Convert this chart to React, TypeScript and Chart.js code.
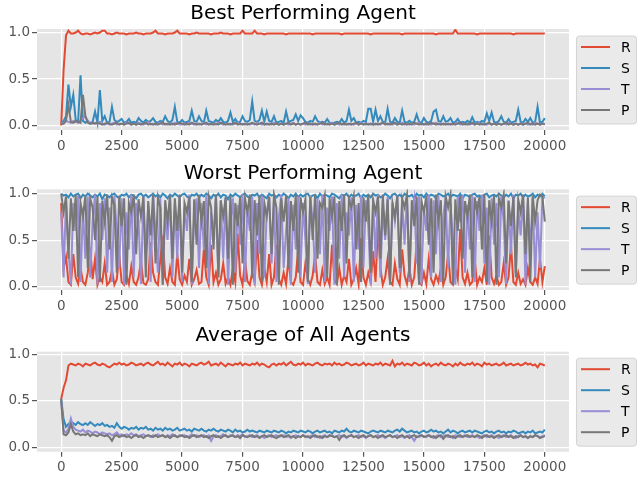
import { useEffect, useRef } from "react"
import { Chart, registerables } from "chart.js"

Chart.register(...registerables)

// episode index of every sample
const episodes = [
  0, 100, 200, 300, 400, 500, 600, 700, 800, 900,
  1000, 1100, 1200, 1300, 1400, 1500, 1600, 1700, 1800, 1900,
  2000, 2100, 2200, 2300, 2400, 2500, 2600, 2700, 2800, 2900,
  3000, 3100, 3200, 3300, 3400, 3500, 3600, 3700, 3800, 3900,
  4000, 4100, 4200, 4300, 4400, 4500, 4600, 4700, 4800, 4900,
  5000, 5100, 5200, 5300, 5400, 5500, 5600, 5700, 5800, 5900,
  6000, 6100, 6200, 6300, 6400, 6500, 6600, 6700, 6800, 6900,
  7000, 7100, 7200, 7300, 7400, 7500, 7600, 7700, 7800, 7900,
  8000, 8100, 8200, 8300, 8400, 8500, 8600, 8700, 8800, 8900,
  9000, 9100, 9200, 9300, 9400, 9500, 9600, 9700, 9800, 9900,
  10000, 10100, 10200, 10300, 10400, 10500, 10600, 10700, 10800, 10900,
  11000, 11100, 11200, 11300, 11400, 11500, 11600, 11700, 11800, 11900,
  12000, 12100, 12200, 12300, 12400, 12500, 12600, 12700, 12800, 12900,
  13000, 13100, 13200, 13300, 13400, 13500, 13600, 13700, 13800, 13900,
  14000, 14100, 14200, 14300, 14400, 14500, 14600, 14700, 14800, 14900,
  15000, 15100, 15200, 15300, 15400, 15500, 15600, 15700, 15800, 15900,
  16000, 16100, 16200, 16300, 16400, 16500, 16600, 16700, 16800, 16900,
  17000, 17100, 17200, 17300, 17400, 17500, 17600, 17700, 17800, 17900,
  18000, 18100, 18200, 18300, 18400, 18500, 18600, 18700, 18800, 18900,
  19000, 19100, 19200, 19300, 19400, 19500, 19600, 19700, 19800, 19900,
  20000,
]

const xTicks = [0, 2500, 5000, 7500, 10000, 12500, 15000, 17500, 20000]
const yTicks = [0, 0.5, 1]
const seriesNames = ["R", "S", "T", "P"]
const seriesColors = ["#E24A33", "#348ABD", "#988ED5", "#777777"]

// Best performing agent
const bestR = [
  0.0, 0.6, 0.97, 1.02, 0.99, 0.99, 1.0, 1.02, 0.99, 0.98,
  0.99, 0.99, 0.98, 0.99, 1.0, 0.99, 1.0, 1.02, 1.02, 0.99,
  0.99, 0.98, 0.99, 1.0, 0.99, 0.99, 0.99, 0.98, 0.99, 0.99,
  0.99, 1.0, 0.99, 0.99, 0.98, 0.99, 0.99, 0.99, 1.0, 1.02,
  0.99, 0.99, 0.99, 0.98, 0.99, 0.99, 0.99, 1.0, 1.02, 0.99,
  0.99, 0.99, 0.99, 0.98, 0.99, 0.99, 1.0, 0.99, 0.99, 0.99,
  0.99, 0.99, 0.98, 0.99, 0.99, 0.99, 1.0, 0.99, 0.99, 0.99,
  0.98, 0.99, 0.99, 0.99, 0.99, 1.02, 0.99, 0.99, 0.99, 0.99,
  1.02, 0.99, 0.99, 0.99, 0.98, 0.99, 0.99, 0.99, 0.99, 0.99,
  0.99, 0.99, 0.99, 0.98, 0.99, 0.99, 0.99, 0.99, 0.99, 0.99,
  0.99, 0.99, 0.99, 0.99, 0.98, 0.99, 0.99, 0.99, 0.99, 0.99,
  0.99, 0.99, 0.99, 0.99, 0.99, 0.99, 0.98, 0.99, 0.99, 0.99,
  0.99, 0.99, 0.99, 0.99, 0.99, 0.99, 0.99, 0.99, 0.98, 0.99,
  0.99, 0.99, 0.99, 0.99, 0.99, 0.99, 0.99, 0.99, 0.99, 0.99,
  0.99, 0.98, 0.99, 0.99, 0.99, 0.99, 0.99, 0.99, 0.99, 0.99,
  0.99, 0.99, 0.99, 0.99, 0.99, 0.98, 0.99, 0.99, 0.99, 0.99,
  0.99, 0.99, 0.99, 1.03, 0.99, 0.99, 0.99, 0.99, 0.99, 0.99,
  0.99, 0.99, 0.98, 0.99, 0.99, 0.99, 0.99, 0.99, 0.99, 0.99,
  0.99, 0.99, 0.99, 0.99, 0.99, 0.99, 0.99, 0.98, 0.99, 0.99,
  0.99, 0.99, 0.99, 0.99, 0.99, 0.99, 0.99, 0.99, 0.99, 0.99,
  0.99,
]
const bestS = [
  0.02, 0.05, 0.1, 0.44, 0.2, 0.33, 0.06, 0.04, 0.54, 0.05,
  0.03, 0.05, 0.02, 0.04, 0.15, 0.03, 0.38, 0.05, 0.1, 0.03,
  0.04, 0.2, 0.06, 0.04, 0.05, 0.07, 0.03, 0.04, 0.07, 0.03,
  0.04, 0.03, 0.08, 0.05, 0.03, 0.06, 0.04, 0.05, 0.08, 0.04,
  0.03, 0.05, 0.04, 0.1, 0.05, 0.03, 0.06, 0.2, 0.04, 0.03,
  0.06, 0.03, 0.04, 0.05, 0.16, 0.05, 0.04, 0.1, 0.05, 0.03,
  0.16, 0.05, 0.04, 0.03, 0.06, 0.04, 0.08, 0.04, 0.03, 0.05,
  0.14, 0.04, 0.07, 0.03, 0.04, 0.1, 0.05, 0.04, 0.06, 0.26,
  0.05, 0.04, 0.06, 0.16, 0.04, 0.15, 0.05, 0.04, 0.1, 0.03,
  0.04, 0.05, 0.03, 0.15, 0.04, 0.05, 0.06, 0.12, 0.05, 0.11,
  0.08, 0.04, 0.03, 0.05, 0.04, 0.1, 0.05, 0.03, 0.04, 0.03,
  0.07, 0.03, 0.02, 0.03, 0.04, 0.03, 0.07, 0.03, 0.05, 0.17,
  0.05, 0.08, 0.03, 0.04, 0.03, 0.05, 0.04, 0.18, 0.18, 0.04,
  0.17, 0.05, 0.1, 0.04, 0.03, 0.18, 0.04, 0.03, 0.08, 0.04,
  0.03, 0.16, 0.04, 0.03, 0.05, 0.03, 0.04, 0.12, 0.04, 0.03,
  0.08, 0.04, 0.03, 0.05, 0.15, 0.17, 0.05, 0.04, 0.1, 0.04,
  0.05, 0.08, 0.03, 0.04, 0.07, 0.03, 0.04, 0.03, 0.05, 0.03,
  0.09, 0.03, 0.04, 0.03, 0.05, 0.04, 0.13, 0.05, 0.14, 0.04,
  0.03, 0.05, 0.1, 0.04, 0.03, 0.07, 0.03, 0.04, 0.05, 0.17,
  0.04, 0.03, 0.07, 0.04, 0.08, 0.03, 0.04, 0.2, 0.03, 0.04,
  0.08,
]
const bestT = [
  0.02, 0.03, 0.05, 0.04, 0.03, 0.05, 0.04, 0.03, 0.06, 0.08,
  0.1, 0.05, 0.03, 0.02, 0.03, 0.02, 0.04, 0.02, 0.01, 0.02,
  0.01, 0.02, 0.03, 0.01, 0.02, 0.02, 0.01, 0.03, 0.02, 0.01,
  0.02, 0.01, 0.03, 0.02, 0.01, 0.02, 0.04, 0.01, 0.02, 0.01,
  0.02, 0.03, 0.01, 0.02, 0.01, 0.02, 0.01, 0.03, 0.02, 0.01,
  0.01, 0.02, 0.01, 0.03, 0.02, 0.01, 0.02, 0.01, 0.02, 0.03,
  0.01, 0.02, 0.01, 0.02, 0.01, 0.03, 0.02, 0.01, 0.02, 0.01,
  0.02, 0.01, 0.02, 0.03, 0.01, 0.02, 0.01, 0.02, 0.01, 0.02,
  0.01, 0.03, 0.02, 0.01, 0.02, 0.01, 0.02, 0.01, 0.03, 0.02,
  0.01, 0.02, 0.01, 0.02, 0.01, 0.02, 0.03, 0.01, 0.02, 0.01,
  0.02, 0.01, 0.02, 0.01, 0.02, 0.01, 0.02, 0.03, 0.01, 0.02,
  0.01, 0.02, 0.03, 0.01, 0.02, 0.01, 0.02, 0.01, 0.02, 0.01,
  0.02, 0.01, 0.02, 0.01, 0.03, 0.02, 0.01, 0.02, 0.01, 0.02,
  0.01, 0.02, 0.01, 0.03, 0.02, 0.01, 0.02, 0.01, 0.02, 0.01,
  0.02, 0.03, 0.01, 0.02, 0.01, 0.02, 0.01, 0.02, 0.03, 0.01,
  0.02, 0.01, 0.02, 0.01, 0.02, 0.03, 0.01, 0.02, 0.01, 0.02,
  0.01, 0.02, 0.01, 0.02, 0.03, 0.01, 0.02, 0.01, 0.02, 0.01,
  0.02, 0.01, 0.03, 0.02, 0.01, 0.02, 0.01, 0.02, 0.01, 0.02,
  0.01, 0.02, 0.01, 0.02, 0.01, 0.03, 0.02, 0.01, 0.02, 0.01,
  0.02, 0.01, 0.02, 0.01, 0.02, 0.01, 0.03, 0.02, 0.01, 0.02,
  0.01,
]
const bestP = [
  0.02, 0.02, 0.05, 0.22, 0.04, 0.03, 0.05, 0.04, 0.03, 0.33,
  0.1, 0.03, 0.02, 0.03, 0.02, 0.03, 0.02, 0.01, 0.02, 0.03,
  0.02, 0.01, 0.02, 0.03, 0.01, 0.02, 0.01, 0.02, 0.03, 0.01,
  0.02, 0.01, 0.02, 0.01, 0.02, 0.03, 0.01, 0.02, 0.01, 0.02,
  0.01, 0.02, 0.03, 0.01, 0.02, 0.01, 0.02, 0.01, 0.02, 0.03,
  0.02, 0.01, 0.02, 0.01, 0.03, 0.02, 0.01, 0.02, 0.01, 0.02,
  0.03, 0.01, 0.02, 0.01, 0.02, 0.01, 0.03, 0.02, 0.01, 0.02,
  0.01, 0.02, 0.03, 0.01, 0.02, 0.01, 0.02, 0.01, 0.02, 0.03,
  0.02, 0.01, 0.02, 0.03, 0.01, 0.02, 0.01, 0.02, 0.01, 0.02,
  0.01, 0.02, 0.01, 0.02, 0.03, 0.01, 0.02, 0.01, 0.02, 0.01,
  0.02, 0.03, 0.01, 0.02, 0.01, 0.02, 0.01, 0.02, 0.03, 0.01,
  0.02, 0.01, 0.02, 0.01, 0.02, 0.03, 0.01, 0.02, 0.01, 0.02,
  0.01, 0.02, 0.03, 0.01, 0.02, 0.01, 0.02, 0.01, 0.02, 0.01,
  0.02, 0.01, 0.02, 0.03, 0.01, 0.02, 0.01, 0.02, 0.03, 0.01,
  0.02, 0.01, 0.02, 0.01, 0.02, 0.01, 0.03, 0.02, 0.01, 0.02,
  0.01, 0.02, 0.01, 0.03, 0.02, 0.01, 0.02, 0.01, 0.02, 0.01,
  0.02, 0.01, 0.02, 0.01, 0.02, 0.03, 0.01, 0.02, 0.01, 0.02,
  0.03, 0.01, 0.02, 0.01, 0.02, 0.01, 0.02, 0.03, 0.01, 0.02,
  0.01, 0.02, 0.01, 0.02, 0.03, 0.01, 0.02, 0.01, 0.02, 0.01,
  0.02, 0.01, 0.02, 0.03, 0.01, 0.02, 0.01, 0.02, 0.01, 0.02,
  0.02,
]

// Worst performing agent
const worstR = [
  0.9, 0.2, 0.32, 0.05, 0.02, 0.35, 0.1, 0.03, 0.2, 0.05,
  0.02, 0.15, 0.42, 0.08, 0.3, 0.02, 0.1, 0.05, 0.25, 0.02,
  0.05, 0.18, 0.02, 0.08, 0.35, 0.05, 0.02, 0.12, 0.03, 0.22,
  0.05, 0.02, 0.1, 0.28, 0.04, 0.02, 0.08, 0.48, 0.15, 0.05,
  0.02, 0.3, 0.55, 0.1, 0.03, 0.2, 0.05, 0.02, 0.35, 0.08,
  0.02, 0.12, 0.05, 0.3, 0.02, 0.08, 0.18, 0.03, 0.05, 0.4,
  0.1, 0.02, 0.45, 0.05, 0.15, 0.02, 0.08, 0.25, 0.03, 0.1,
  0.02, 0.2, 0.05, 0.57, 0.12, 0.02, 0.3, 0.06, 0.02, 0.15,
  0.05, 0.5, 0.1, 0.02, 0.2, 0.05, 0.35, 0.02, 0.1, 0.45,
  0.08, 0.02, 0.15, 0.03, 0.3, 0.05, 0.02, 0.1, 0.4, 0.05,
  0.02, 0.25, 0.08, 0.02, 0.12, 0.35, 0.05, 0.02, 0.18, 0.03,
  0.1, 0.02, 0.45, 0.08, 0.03, 0.2, 0.02, 0.12, 0.05, 0.3,
  0.02, 0.08, 0.2, 0.03, 0.52, 0.1, 0.02, 0.15, 0.05, 0.38,
  0.05, 0.65, 0.2, 0.02, 0.1, 0.3, 0.05, 0.02, 0.25, 0.08,
  0.02, 0.4, 0.12, 0.03, 0.2, 0.02, 0.1, 0.48, 0.05, 0.02,
  0.15, 0.03, 0.3, 0.08, 0.02, 0.12, 0.05, 0.2, 0.02, 0.1,
  0.35, 0.05, 0.02, 0.2, 0.08, 0.62, 0.1, 0.03, 0.15, 0.02,
  0.05, 0.3, 0.02, 0.1, 0.05, 0.2, 0.02, 0.55, 0.1, 0.03,
  0.12, 0.02, 0.05, 0.25, 0.02, 0.1, 0.45, 0.05, 0.02, 0.15,
  0.03, 0.08, 0.02, 0.2, 0.05, 0.02, 0.1, 0.03, 0.3, 0.05,
  0.22,
]
const worstS = [
  1.0, 0.98, 0.99, 0.96, 1.0, 0.97, 0.99, 1.0, 0.95, 0.99,
  0.97, 1.0, 0.98, 0.96, 0.99, 0.97, 1.0, 0.94, 0.99, 0.98,
  0.96, 0.99, 1.0, 0.97, 0.95, 0.99, 0.98, 1.0, 0.96, 0.99,
  0.98, 0.95, 0.99, 1.0, 0.97, 0.99, 0.96, 0.98, 1.0, 0.97,
  0.99, 0.96, 1.0, 0.98, 0.95, 0.99, 0.97, 1.0, 0.98, 0.96,
  0.99, 1.0, 0.97, 0.95, 0.99, 0.98, 1.0, 0.96, 0.99, 0.97,
  1.0, 0.98, 0.95, 0.99, 0.97, 1.0, 0.96, 0.99, 0.98, 0.94,
  0.99, 0.97, 1.0, 0.98, 0.96, 0.99, 1.0, 0.97, 0.95, 0.99,
  0.98, 1.0, 0.96, 0.99, 0.97, 0.95, 1.0, 0.98, 0.99, 0.96,
  0.99, 0.97, 1.0, 0.98, 0.95, 0.99, 0.97, 1.0, 0.96, 0.99,
  0.97, 0.99, 1.0, 0.96, 0.98, 0.99, 0.95, 1.0, 0.97, 0.99,
  0.98, 0.96, 1.0, 0.99, 0.97, 0.95, 0.99, 0.98, 1.0, 0.96,
  0.99, 0.97, 0.98, 1.0, 0.95, 0.99, 0.97, 0.99, 0.96, 1.0,
  0.98, 0.99, 0.96, 0.97, 1.0, 0.98, 0.95, 0.99, 1.0, 0.97,
  0.99, 0.96, 1.0, 0.98, 0.97, 0.99, 0.95, 1.0, 0.98, 0.99,
  0.96, 1.0, 0.97, 0.99, 0.98, 0.95, 1.0, 0.99, 0.97, 0.98,
  1.0, 0.96, 0.99, 0.98, 0.97, 1.0, 0.95, 0.99, 0.98, 0.96,
  0.99, 1.0, 0.97, 0.98, 0.95, 0.99, 1.0, 0.96, 0.98, 0.99,
  0.97, 1.0, 0.98, 0.96, 0.99, 0.97, 1.0, 0.95, 0.99, 0.98,
  1.0, 0.96, 0.99, 0.97, 0.98, 1.0, 0.96, 0.99, 0.97, 1.0,
  0.97,
]
const worstT = [
  0.8, 0.1, 0.95, 0.4, 0.02, 0.9, 0.6, 0.98, 0.05, 0.85,
  0.3, 0.97, 0.1, 0.7, 0.99, 0.02, 0.9, 0.5, 0.95, 0.15,
  0.85, 0.05, 0.98, 0.6, 0.2, 0.95, 0.02, 0.8, 0.4, 0.99,
  0.1, 0.9, 0.7, 0.03, 0.97, 0.35, 0.88, 0.05, 0.99, 0.6,
  0.15, 0.95, 0.02, 0.8, 0.5, 0.98, 0.1, 0.9, 0.3, 0.97,
  0.05, 0.85, 0.6, 0.99, 0.02, 0.75, 0.95, 0.2, 0.9, 0.4,
  0.98, 0.03, 0.8, 0.55, 0.99, 0.1, 0.92, 0.3, 0.96, 0.02,
  0.7, 0.95, 0.15, 0.88, 0.45, 0.99, 0.05, 0.85, 0.6, 0.97,
  0.02, 0.9, 0.35, 0.98, 0.1, 0.8, 0.96, 0.25, 0.93, 0.05,
  0.75, 0.99, 0.2, 0.6, 0.95, 0.02, 0.88, 0.4, 0.97, 0.1,
  0.9, 0.5, 0.03, 0.98, 0.7, 0.15, 0.95, 0.35, 0.99, 0.05,
  0.85, 0.6, 0.97, 0.02, 0.9, 0.3, 0.99, 0.1, 0.8, 0.55,
  0.96, 0.05, 0.88, 0.4, 0.98, 0.2, 0.93, 0.65, 0.02, 0.95,
  0.3, 0.99, 0.1, 0.85, 0.5, 0.97, 0.03, 0.9, 0.7, 0.98,
  0.15, 0.92, 0.45, 0.99, 0.05, 0.8, 0.95, 0.25, 0.97, 0.02,
  0.85, 0.6, 0.99, 0.1, 0.93, 0.35, 0.98, 0.05, 0.75, 0.96,
  0.2, 0.9, 0.5, 0.02, 0.97, 0.7, 0.99, 0.15, 0.88, 0.4,
  0.98, 0.05, 0.92, 0.6, 0.99, 0.25, 0.85, 0.02, 0.95, 0.45,
  0.9, 0.1, 0.97, 0.7, 0.03, 0.93, 0.35, 0.99, 0.15, 0.85,
  0.55, 0.98, 0.02, 0.9, 0.4, 0.96, 0.1, 0.8, 0.2, 0.97,
  0.95,
]
const worstP = [
  1.0, 0.8, 0.97, 0.3, 0.95, 0.6, 0.99, 0.1, 0.9, 0.75,
  0.98, 0.2, 0.95, 0.85, 0.5, 0.97, 0.05, 0.92, 0.7, 0.99,
  0.4, 0.96, 0.88, 0.15, 0.98, 0.65, 0.95, 0.02, 0.9, 0.8,
  0.99, 0.35, 0.94, 0.75, 0.97, 0.1, 0.92, 0.55, 0.99, 0.25,
  0.96, 0.85, 0.02, 0.93, 0.7, 0.98, 0.3, 0.95, 0.6, 0.99,
  0.15, 0.9, 0.8, 0.97, 0.05, 0.94, 0.45, 0.99, 0.7, 0.92,
  0.2, 0.97, 0.85, 0.4, 0.99, 0.1, 0.93, 0.75, 0.96, 0.3,
  0.98, 0.02, 0.9, 0.65, 0.97, 0.25, 0.95, 0.8, 0.99, 0.1,
  0.93, 0.55, 0.98, 0.05, 0.9, 0.75, 0.97, 0.35, 0.99, 0.85,
  0.02, 0.95, 0.7, 0.98, 0.2, 0.92, 0.6, 0.99, 0.15, 0.96,
  0.8, 0.94, 0.05, 0.97, 0.5, 0.99, 0.3, 0.9, 0.85, 0.98,
  0.1, 0.95, 0.75, 0.97, 0.02, 0.92, 0.6, 0.99, 0.25, 0.94,
  0.85, 0.98, 0.4, 0.9, 0.05, 0.96, 0.7, 0.99, 0.15, 0.93,
  0.8, 0.97, 0.3, 0.99, 0.55, 0.94, 0.02, 0.9, 0.75, 0.98,
  0.2, 0.95, 0.85, 0.99, 0.1, 0.93, 0.65, 0.97, 0.02, 0.92,
  0.8, 0.98, 0.45, 0.95, 0.15, 0.99, 0.7, 0.93, 0.05, 0.97,
  0.85, 0.99, 0.02, 0.94, 0.6, 0.98, 0.3, 0.92, 0.75, 0.99,
  0.1, 0.96, 0.8, 0.97, 0.4, 0.99, 0.05, 0.93, 0.7, 0.98,
  0.02, 0.95, 0.85, 0.99, 0.25, 0.92, 0.65, 0.97, 0.1, 0.94,
  0.8, 0.99, 0.35, 0.96, 0.05, 0.98, 0.7, 0.93, 0.99, 0.97,
  0.7,
]

// Average of all agents
const avgR = [
  0.52, 0.64, 0.72, 0.88, 0.9, 0.89, 0.88, 0.9, 0.89, 0.87,
  0.9, 0.89, 0.88, 0.9, 0.91, 0.89, 0.88, 0.9, 0.89, 0.87,
  0.86, 0.88, 0.9, 0.89, 0.91, 0.89, 0.9, 0.88, 0.89, 0.91,
  0.9, 0.88, 0.89, 0.9, 0.88, 0.9, 0.91, 0.89, 0.88, 0.9,
  0.92, 0.89, 0.9, 0.88, 0.91, 0.89, 0.87, 0.9, 0.89, 0.91,
  0.88, 0.9, 0.89, 0.87, 0.9, 0.89, 0.88, 0.9, 0.91, 0.89,
  0.9, 0.92, 0.88, 0.89, 0.9, 0.88, 0.91, 0.89, 0.87, 0.9,
  0.89, 0.88, 0.9, 0.89, 0.91, 0.88, 0.9, 0.89, 0.88, 0.9,
  0.89, 0.91, 0.88, 0.9, 0.89, 0.87, 0.86, 0.89, 0.9, 0.88,
  0.9, 0.89, 0.91, 0.88, 0.9, 0.92, 0.89, 0.88, 0.9, 0.89,
  0.91, 0.88, 0.9, 0.89, 0.88, 0.9, 0.91, 0.89, 0.88, 0.9,
  0.89, 0.9, 0.88, 0.91, 0.89, 0.9, 0.88, 0.89, 0.91, 0.9,
  0.88, 0.89, 0.9, 0.88, 0.89, 0.91, 0.88, 0.9, 0.89, 0.88,
  0.9, 0.89, 0.91, 0.88, 0.9, 0.89, 0.88, 0.93, 0.87, 0.9,
  0.89, 0.91, 0.88, 0.9, 0.89, 0.88, 0.91, 0.9, 0.88, 0.89,
  0.91, 0.88, 0.9, 0.87, 0.89, 0.9, 0.88, 0.91, 0.89, 0.88,
  0.9, 0.89, 0.87, 0.9, 0.88, 0.91, 0.89, 0.88, 0.9, 0.89,
  0.91, 0.88, 0.9, 0.89, 0.87, 0.91, 0.89, 0.9, 0.88, 0.89,
  0.9, 0.88, 0.89, 0.91, 0.88, 0.89, 0.9, 0.88, 0.89, 0.9,
  0.88, 0.89, 0.91, 0.89, 0.9, 0.88, 0.89, 0.86, 0.9, 0.89,
  0.88,
]
const avgS = [
  0.52, 0.3, 0.22, 0.25, 0.27, 0.26, 0.24, 0.27, 0.25, 0.24,
  0.26, 0.24, 0.27, 0.25, 0.23, 0.25, 0.24, 0.26, 0.23, 0.24,
  0.22, 0.23, 0.21, 0.26, 0.22, 0.2, 0.22, 0.21, 0.19, 0.21,
  0.2, 0.22, 0.19, 0.21, 0.2, 0.22, 0.19, 0.2, 0.18, 0.21,
  0.19, 0.2, 0.18, 0.21, 0.19, 0.2, 0.18, 0.19, 0.21, 0.18,
  0.19, 0.2, 0.18, 0.19, 0.17, 0.2, 0.19, 0.18, 0.2, 0.18,
  0.17, 0.19, 0.18, 0.2, 0.18, 0.17, 0.19, 0.18, 0.17, 0.19,
  0.18, 0.16, 0.19, 0.17, 0.18, 0.16, 0.17, 0.19, 0.17, 0.18,
  0.17, 0.16, 0.18, 0.17, 0.16, 0.18, 0.17, 0.16, 0.18, 0.17,
  0.16, 0.18, 0.17, 0.15, 0.17, 0.16, 0.18, 0.17, 0.16, 0.18,
  0.17, 0.16, 0.18, 0.17, 0.15, 0.17, 0.18, 0.16, 0.17, 0.18,
  0.16, 0.17, 0.15, 0.18, 0.17, 0.16, 0.18, 0.17, 0.2, 0.17,
  0.16, 0.18, 0.17, 0.16, 0.18, 0.17, 0.16, 0.15, 0.17, 0.18,
  0.17, 0.16, 0.18, 0.17, 0.16, 0.18, 0.17, 0.16, 0.18, 0.19,
  0.17, 0.2, 0.18, 0.16, 0.17, 0.18, 0.16, 0.17, 0.15, 0.17,
  0.18, 0.16, 0.17, 0.19, 0.17, 0.18, 0.16, 0.17, 0.15, 0.17,
  0.19, 0.16, 0.18, 0.17, 0.15, 0.17, 0.18, 0.16, 0.17, 0.18,
  0.16, 0.18, 0.17, 0.16, 0.15, 0.17, 0.18, 0.16, 0.17, 0.15,
  0.17, 0.18, 0.16, 0.17, 0.15, 0.17, 0.16, 0.18, 0.17, 0.15,
  0.16, 0.17, 0.15, 0.17, 0.16, 0.18, 0.15, 0.16, 0.17, 0.16,
  0.19,
]
const avgT = [
  0.5, 0.18, 0.16, 0.2, 0.31, 0.22, 0.19, 0.18, 0.17, 0.19,
  0.16, 0.18, 0.17, 0.15, 0.17, 0.16, 0.14, 0.16, 0.15, 0.14,
  0.15, 0.13, 0.14, 0.16, 0.13, 0.14, 0.12, 0.14, 0.13, 0.15,
  0.13, 0.14, 0.12, 0.13, 0.14, 0.12, 0.13, 0.11, 0.13, 0.12,
  0.14, 0.12, 0.13, 0.11, 0.13, 0.12, 0.14, 0.12, 0.11, 0.13,
  0.12, 0.13, 0.11, 0.12, 0.14, 0.12, 0.13, 0.11, 0.12, 0.13,
  0.11, 0.13, 0.07, 0.12, 0.13, 0.11, 0.12, 0.14, 0.12, 0.11,
  0.13, 0.12, 0.11, 0.13, 0.12, 0.14, 0.11, 0.12, 0.13, 0.11,
  0.12, 0.13, 0.11, 0.12, 0.1, 0.12, 0.13, 0.11, 0.12, 0.13,
  0.11, 0.12, 0.13, 0.11, 0.12, 0.1, 0.12, 0.13, 0.12, 0.11,
  0.13, 0.12, 0.11, 0.12, 0.13, 0.11, 0.12, 0.1, 0.12, 0.13,
  0.11, 0.12, 0.13, 0.11, 0.12, 0.13, 0.11, 0.12, 0.1, 0.12,
  0.13, 0.11, 0.12, 0.13, 0.11, 0.12, 0.1, 0.12, 0.13, 0.11,
  0.12, 0.13, 0.11, 0.12, 0.1, 0.12, 0.13, 0.11, 0.12, 0.13,
  0.11, 0.12, 0.1, 0.12, 0.13, 0.11, 0.07, 0.12, 0.11, 0.13,
  0.12, 0.11, 0.13, 0.12, 0.1, 0.12, 0.13, 0.11, 0.12, 0.13,
  0.11, 0.12, 0.1, 0.13, 0.12, 0.11, 0.12, 0.13, 0.11, 0.12,
  0.13, 0.11, 0.12, 0.1, 0.12, 0.13, 0.11, 0.12, 0.13, 0.11,
  0.12, 0.1, 0.12, 0.13, 0.11, 0.12, 0.13, 0.11, 0.1, 0.12,
  0.13, 0.11, 0.12, 0.1, 0.12, 0.11, 0.13, 0.12, 0.11, 0.12,
  0.13,
]
const avgP = [
  0.52, 0.14, 0.13, 0.16, 0.25, 0.17, 0.14, 0.15, 0.13, 0.14,
  0.13, 0.15, 0.12, 0.14, 0.13, 0.12, 0.14, 0.13, 0.12, 0.13,
  0.11, 0.07, 0.12, 0.13, 0.11, 0.12, 0.13, 0.11, 0.12, 0.1,
  0.12, 0.13, 0.11, 0.12, 0.1, 0.12, 0.13, 0.12, 0.11, 0.13,
  0.11, 0.12, 0.13, 0.11, 0.12, 0.1, 0.12, 0.13, 0.11, 0.12,
  0.13, 0.11, 0.12, 0.1, 0.12, 0.13, 0.11, 0.12, 0.13, 0.11,
  0.12, 0.1, 0.12, 0.13, 0.11, 0.12, 0.1, 0.12, 0.13, 0.11,
  0.12, 0.13, 0.11, 0.12, 0.1, 0.13, 0.12, 0.11, 0.12, 0.13,
  0.11, 0.12, 0.1, 0.12, 0.13, 0.11, 0.12, 0.13, 0.11, 0.1,
  0.12, 0.13, 0.11, 0.12, 0.13, 0.11, 0.12, 0.1, 0.12, 0.11,
  0.13, 0.11, 0.12, 0.1, 0.12, 0.13, 0.11, 0.12, 0.1, 0.12,
  0.11, 0.13, 0.12, 0.11, 0.12, 0.08, 0.12, 0.13, 0.11, 0.12,
  0.13, 0.11, 0.12, 0.1, 0.12, 0.13, 0.11, 0.12, 0.13, 0.11,
  0.12, 0.1, 0.12, 0.13, 0.11, 0.12, 0.13, 0.11, 0.12, 0.1,
  0.12, 0.13, 0.11, 0.12, 0.1, 0.12, 0.13, 0.11, 0.12, 0.13,
  0.11, 0.12, 0.13, 0.11, 0.12, 0.1, 0.12, 0.13, 0.09, 0.12,
  0.13, 0.11, 0.12, 0.1, 0.12, 0.13, 0.11, 0.12, 0.13, 0.11,
  0.12, 0.11, 0.13, 0.12, 0.1, 0.12, 0.13, 0.11, 0.12, 0.1,
  0.12, 0.13, 0.11, 0.12, 0.13, 0.11, 0.12, 0.1, 0.12, 0.11,
  0.13, 0.11, 0.12, 0.1, 0.12, 0.11, 0.13, 0.12, 0.1, 0.11,
  0.12,
]

const FONT = "'DejaVu Sans', sans-serif"

interface PanelProps {
  title: string
  series: number[][]
  yMin: number
  yMax: number
  top: number
  bottom: number
}

function Panel({ title, series, yMin, yMax, top, bottom }: PanelProps) {
  const chartRef = useRef<HTMLCanvasElement>(null)
  const chartInstance = useRef<Chart | null>(null)

  useEffect(() => {
    if (!chartRef.current) return
    if (chartInstance.current) chartInstance.current.destroy()

    // grey panel, title above, legend box outside to the right
    const decor = {
      id: "decor",
      beforeDraw(chart: any) {
        const { ctx, chartArea: a } = chart
        ctx.save()
        ctx.fillStyle = "#E5E5E5"
        ctx.fillRect(a.left, a.top, a.right - a.left, a.bottom - a.top)
        ctx.restore()
      },
      afterDraw(chart: any) {
        const { ctx, chartArea: a } = chart
        ctx.save()
        ctx.fillStyle = "#000"
        ctx.font = `20px ${FONT}`
        ctx.textAlign = "center"
        ctx.textBaseline = "alphabetic"
        ctx.fillText(title, (a.left + a.right) / 2, a.top - 10.5)

        const bw = 60
        const bh = 88
        const bx = a.right + 7
        const by = (a.top + a.bottom) / 2 - bh / 2
        ctx.beginPath()
        ctx.roundRect(bx + 0.5, by + 0.5, bw, bh, 3)
        ctx.fillStyle = "rgba(229,229,229,0.8)"
        ctx.fill()
        ctx.strokeStyle = "rgba(204,204,204,0.8)"
        ctx.lineWidth = 1
        ctx.stroke()
        ctx.font = `14px ${FONT}`
        ctx.textAlign = "left"
        ctx.textBaseline = "middle"
        chart.data.datasets.forEach((ds: any, i: number) => {
          const yy = by + 11.5 + i * 21
          ctx.beginPath()
          ctx.moveTo(bx + 5, yy)
          ctx.lineTo(bx + 34, yy)
          ctx.strokeStyle = ds.borderColor
          ctx.lineWidth = 2
          ctx.stroke()
          ctx.fillStyle = "#000"
          ctx.fillText(ds.label, bx + 45, yy + 1)
        })
        ctx.restore()
      },
    }

    const ctx = chartRef.current.getContext("2d")
    if (ctx) {
      chartInstance.current = new Chart(ctx, {
        type: "line",
        data: {
          datasets: series.map((vals, i) => ({
            label: seriesNames[i],
            data: vals.map((v, j) => ({ x: episodes[j], y: v })),
            borderColor: seriesColors[i],
            borderWidth: 2,
            pointRadius: 0,
            tension: 0,
            order: series.length - i,
          })),
        },
        options: {
          responsive: false,
          animation: false,
          events: [],
          layout: { padding: { left: 0, right: 71, top: top, bottom: 0 } },
          scales: {
            x: {
              type: "linear",
              min: -1000,
              max: 21000,
              afterBuildTicks: (s: any) => {
                s.ticks = xTicks.map((v) => ({ value: v }))
              },
              afterFit: (s: any) => {
                s.height = 160 - bottom
              },
              grid: { color: "#FFFFFF", lineWidth: 1.2, tickColor: "#555555", tickLength: 5 },
              border: { display: false },
              ticks: {
                color: "#555555",
                font: { family: FONT, size: 13.5 },
                padding: 3,
                maxRotation: 0,
                autoSkip: false,
                callback: (v: any) => String(v),
              },
            },
            y: {
              min: yMin,
              max: yMax,
              afterBuildTicks: (s: any) => {
                s.ticks = yTicks.map((v) => ({ value: v }))
              },
              afterFit: (s: any) => {
                s.width = 37
              },
              grid: { color: "#FFFFFF", lineWidth: 1.2, tickColor: "#555555", tickLength: 5 },
              border: { display: false },
              ticks: {
                color: "#555555",
                font: { family: FONT, size: 13.5 },
                padding: 2,
                callback: (v: any) => Number(v).toFixed(1),
              },
            },
          },
          plugins: {
            legend: { display: false },
            tooltip: { enabled: false },
            title: { display: false },
          },
        },
        plugins: [decor],
      })
    }

    return () => {
      if (chartInstance.current) {
        chartInstance.current.destroy()
        chartInstance.current = null
      }
    }
  }, [title, series, yMin, yMax, top, bottom])

  return <canvas ref={chartRef} width={640} height={160} style={{ display: "block", width: 640, height: 160 }} />
}

export default function App() {
  return (
    <div style={{ position: "fixed", left: 0, top: 0, width: 640, height: 480, background: "#fff" }}>
      <Panel title="Best Performing Agent" series={[bestR, bestS, bestT, bestP]} yMin={-0.048} yMax={1.038} top={29} bottom={130} />
      <Panel title="Worst Performing Agent" series={[worstR, worstS, worstT, worstP]} yMin={-0.036} yMax={1.047} top={29.3} bottom={130} />
      <Panel title="Average of All Agents" series={[avgR, avgS, avgT, avgP]} yMin={-0.047} yMax={1.028} top={31.7} bottom={131.7} />
    </div>
  )
}
